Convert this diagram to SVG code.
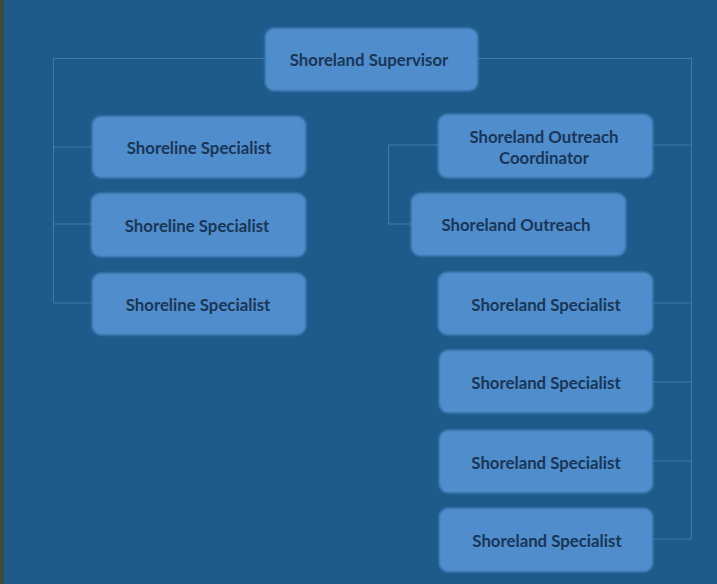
<svg xmlns="http://www.w3.org/2000/svg" width="717" height="584" viewBox="0 0 717 584">
<style>
.bg{fill:#1e5b8a}
.node rect{fill:#4f8dcc;filter:url(#soft)}
.node text{font-family:Lato,"Open Sans","Liberation Sans",sans-serif;font-weight:bold;font-size:16.8px;fill:#1a3656;text-anchor:middle;dominant-baseline:central}
.conn{fill:none;stroke:#5e90bd;stroke-width:1;opacity:0.55}
</style>
<defs>
<filter id="soft" x="-5%" y="-10%" width="110%" height="120%"><feGaussianBlur stdDeviation="0.8"/></filter>
</defs>
<rect class="bg" x="0" y="0" width="717" height="584"/>
<rect x="0" y="0" width="4" height="584" fill="#3d4a3c"/>
<g id="connectors" class="conn">
<path d="M265,58.5 H53.5 V303 M53.5,147 H92 M53.5,224 H92 M53.5,303 H92"/>
<path d="M478,58.5 H691.5 V539 M653,145 H691.5 M653,303 H691.5 M653,382 H691.5 M653,461 H691.5 M653,539 H691.5"/>
<path d="M438,145 H388.5 V224 H411"/>
</g>
<g id="supervisor" class="node"><rect x="265" y="28" width="213" height="63" rx="9"/><text x="369" y="59">Shoreland Supervisor</text></g>
<g id="shoreline1" class="node"><rect x="92" y="116" width="214" height="62" rx="9"/><text x="199" y="147">Shoreline Specialist</text></g>
<g id="shoreline2" class="node"><rect x="91" y="193" width="215" height="64" rx="9"/><text x="197" y="225">Shoreline Specialist</text></g>
<g id="shoreline3" class="node"><rect x="92" y="273" width="214" height="62" rx="9"/><text x="198" y="304">Shoreline Specialist</text></g>
<g id="coordinator" class="node"><rect x="438" y="114" width="215" height="64" rx="9"/><text x="544" y="136">Shoreland Outreach</text><text x="544" y="157">Coordinator</text></g>
<g id="outreach" class="node"><rect x="411" y="193" width="215" height="63" rx="9"/><text x="516" y="224">Shoreland Outreach</text></g>
<g id="specialist1" class="node"><rect x="438" y="272" width="215" height="63" rx="9"/><text x="546" y="304">Shoreland Specialist</text></g>
<g id="specialist2" class="node"><rect x="439" y="350" width="214" height="63" rx="9"/><text x="546" y="382">Shoreland Specialist</text></g>
<g id="specialist3" class="node"><rect x="439" y="430" width="214" height="63" rx="9"/><text x="546" y="462">Shoreland Specialist</text></g>
<g id="specialist4" class="node"><rect x="439" y="508" width="214" height="64" rx="9"/><text x="547" y="540">Shoreland Specialist</text></g>
</svg>
